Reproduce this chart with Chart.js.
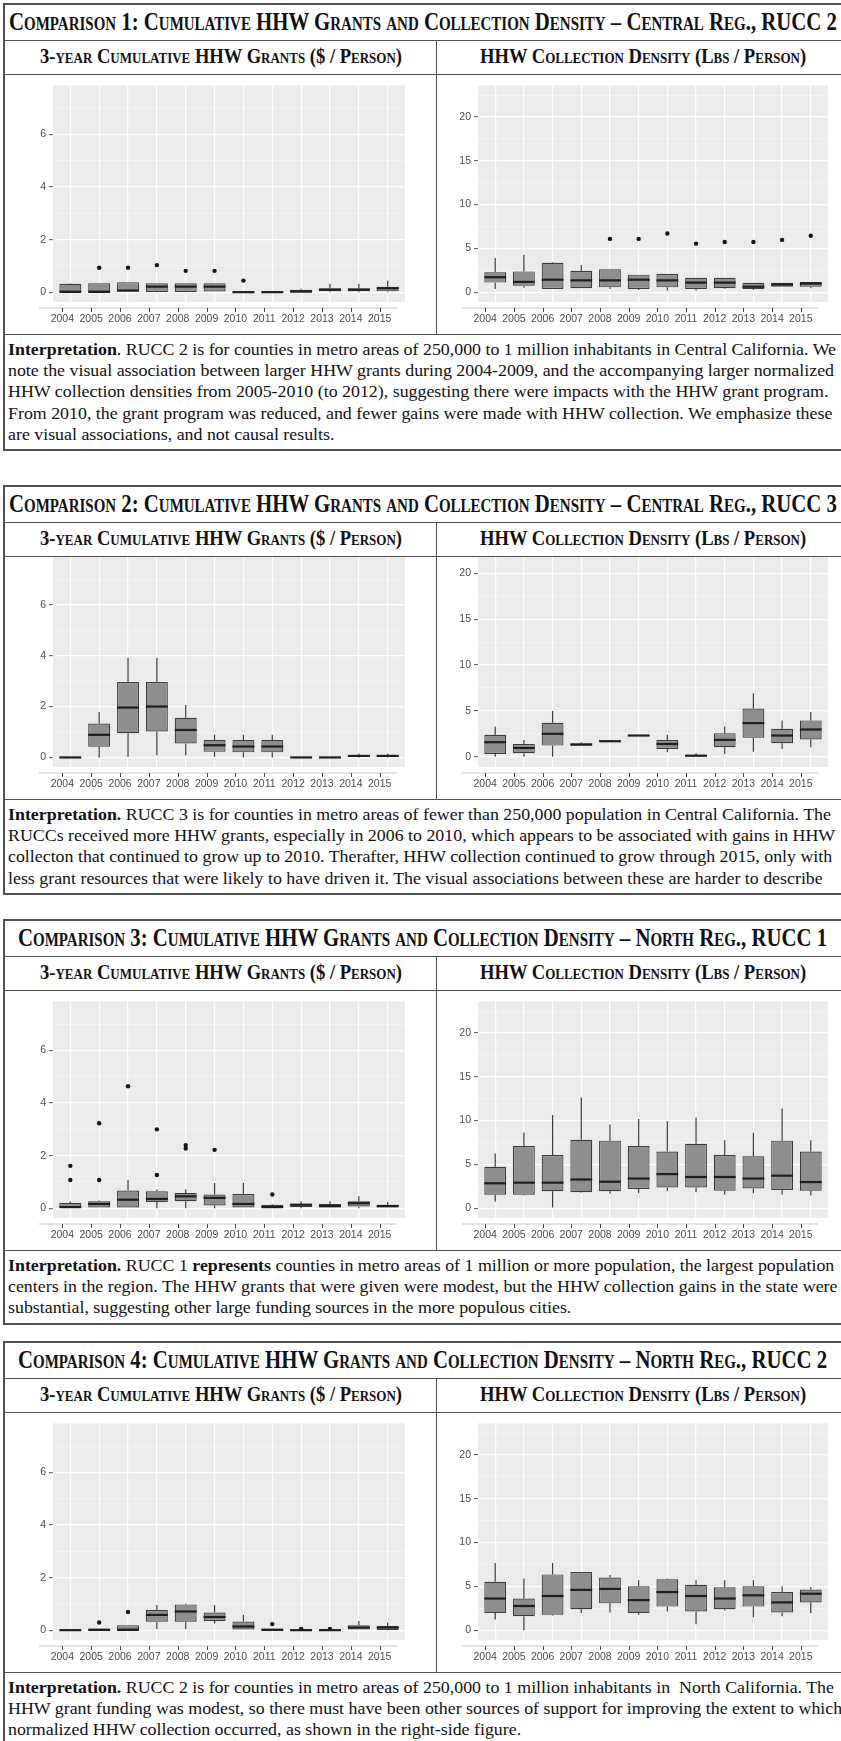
<!DOCTYPE html>
<html>
<head>
<meta charset="utf-8">
<title>Cumulative HHW Grants and Collection Density</title>
<script src="https://cdn.jsdelivr.net/npm/chart.js@4.4.1/dist/chart.umd.min.js"></script>
<style>
  html, body { margin: 0; padding: 0; background: #fff; }
  #page { position: relative; width: 841px; height: 1741px; overflow: hidden; background: #fff; }
  .frame { position: absolute; left: 3px; width: 900px; border: 2px solid #505050; box-sizing: border-box; }
  .hline { position: absolute; left: 3px; width: 900px; height: 0; border-top: 1.6px solid #505050; }
  .vline { position: absolute; left: 436px; width: 0; border-left: 1.6px solid #505050; }
  .title, .sub, .txt {
    position: absolute; white-space: nowrap; line-height: 1; color: #111;
    font-family: "Liberation Serif", "Times New Roman", serif; transform-origin: 0 50%;
  }
  .title { font-weight: bold; font-variant: small-caps; font-size: 25px; }
  .sub { font-weight: bold; font-variant: small-caps; font-size: 20px; }
  .txt { font-size: 17px; }
  canvas { position: absolute; }
</style>
</head>
<body>
<div id="page"></div>
<script>
// ---------- categories ----------
const years = ['2004', '2005', '2006', '2007', '2008', '2009', '2010', '2011', '2012', '2013', '2014', '2015'];

// ---------- box statistics per year: [min, q1, median, q3, max] ----------
// outliers: [year index, value]
const c1Grants = [
  [0, 0, 0.01, 0.32, 0.34], [0, 0, 0.01, 0.34, 0.34], [0, 0, 0.06, 0.38, 0.38], [0, 0.01, 0.21, 0.34, 0.34],
  [0, 0.01, 0.21, 0.34, 0.34], [0, 0, 0.21, 0.34, 0.34], [0, 0, 0, 0.02, 0.02], [0, 0, 0, 0.01, 0.01],
  [0, 0, 0.02, 0.09, 0.13], [0, 0.03, 0.09, 0.15, 0.32], [0, 0.03, 0.09, 0.15, 0.32], [0, 0.03, 0.15, 0.21, 0.43]
];
const c1GrantOutliers = [[1, 0.93], [2, 0.93], [3, 1.03], [4, 0.81], [5, 0.81], [6, 0.44]];
const c1Density = [
  [0.36, 1.09, 1.71, 2.26, 3.9], [0.5, 0.73, 1.17, 2.37, 4.26], [0.36, 0.36, 1.42, 3.35, 3.42], [0.44, 0.44, 1.35, 2.44, 3.1],
  [0.36, 0.55, 1.35, 2.62, 2.62], [0.25, 0.36, 1.42, 2.0, 2.0], [0.18, 0.55, 1.35, 2.08, 2.08], [0.18, 0.36, 1.09, 1.64, 1.64],
  [0.36, 0.44, 1.09, 1.64, 1.64], [0.25, 0.36, 0.62, 1.06, 1.06], [0.62, 0.62, 0.87, 1.06, 1.06], [0.44, 0.62, 0.98, 1.17, 1.17]
];
const c1DensityOutliers = [[4, 6.08], [5, 6.08], [6, 6.7], [7, 5.54], [8, 5.72], [9, 5.72], [10, 5.97], [11, 6.45]];

const c2Grants = [
  [0, 0, 0, 0, 0], [0, 0.42, 0.89, 1.33, 1.79], [0.03, 0.95, 1.96, 2.96, 3.91], [0.09, 1.02, 2.0, 2.96, 3.91],
  [0.09, 0.55, 1.08, 1.56, 2.06], [0.03, 0.22, 0.48, 0.69, 0.89], [0, 0.2, 0.43, 0.69, 0.89], [0, 0.2, 0.43, 0.69, 0.89],
  [0, 0, 0, 0, 0], [0, 0, 0, 0, 0], [0, 0.02, 0.06, 0.1, 0.16], [0, 0.02, 0.06, 0.1, 0.16]
];
const c2GrantOutliers = [];
const c2Density = [
  [0, 0.29, 1.58, 2.39, 3.3], [0, 0.37, 0.95, 1.39, 1.83], [0, 1.21, 2.5, 3.71, 5.0], [1.21, 1.21, 1.32, 1.47, 1.58],
  [1.65, 1.65, 1.69, 1.75, 1.83], [2.25, 2.25, 2.31, 2.38, 2.38], [0.48, 0.84, 1.39, 1.83, 2.39], [0.03, 0.03, 0.11, 0.18, 0.37],
  [0.29, 1.03, 1.83, 2.57, 3.3], [0.55, 2.06, 3.67, 5.25, 6.9], [0.84, 1.47, 2.31, 3.05, 3.96], [1.03, 1.87, 2.97, 3.96, 4.88]
];
const c2DensityOutliers = [];

const c3Grants = [
  [0, 0, 0.04, 0.2, 0.25], [0, 0, 0.16, 0.26, 0.29], [0, 0, 0.32, 0.67, 1.07], [0, 0.23, 0.35, 0.64, 0.71],
  [0, 0.26, 0.45, 0.58, 0.71], [0, 0.1, 0.39, 0.52, 0.96], [0, 0, 0.16, 0.54, 0.96], [0, 0, 0.04, 0.13, 0.16],
  [0, 0.04, 0.13, 0.16, 0.26], [0, 0, 0.08, 0.16, 0.26], [0, 0.06, 0.19, 0.26, 0.45], [0, 0, 0.08, 0.13, 0.23]
];
const c3GrantOutliers = [[0, 1.61], [0, 1.07], [1, 3.23], [1, 1.07], [2, 4.64], [3, 3.0], [3, 1.26], [4, 2.4], [4, 2.27], [5, 2.22], [7, 0.52]];
const c3Density = [
  [0.73, 1.53, 2.84, 4.73, 6.25], [1.45, 1.53, 2.91, 7.09, 8.65], [0.07, 1.93, 2.91, 6.07, 10.65], [1.75, 1.82, 3.27, 7.82, 12.65],
  [1.64, 1.93, 3.02, 7.71, 9.56], [1.71, 2.18, 3.38, 7.09, 10.18], [1.93, 2.36, 3.89, 6.47, 9.93], [1.82, 2.36, 3.56, 7.35, 10.36],
  [1.53, 2.0, 3.56, 6.07, 7.75], [1.71, 2.25, 3.38, 5.93, 8.62], [1.53, 2.07, 3.71, 7.71, 11.38], [1.45, 2.0, 2.98, 6.47, 7.75]
];
const c3DensityOutliers = [];

const c4Grants = [
  [0, 0, 0, 0, 0], [0, 0, 0.01, 0.06, 0.06], [0, 0, 0.01, 0.19, 0.19], [0.04, 0.32, 0.58, 0.77, 0.96],
  [0.04, 0.32, 0.71, 0.98, 1.01], [0.25, 0.35, 0.5, 0.67, 0.95], [0, 0, 0.14, 0.33, 0.58], [0, 0, 0.01, 0.06, 0.06],
  [0, 0, 0, 0.01, 0.01], [0, 0, 0, 0.01, 0.01], [0, 0, 0.1, 0.19, 0.35], [0, 0.01, 0.1, 0.16, 0.29]
];
const c4GrantOutliers = [[1, 0.29], [2, 0.69], [7, 0.23], [8, 0.05], [9, 0.05]];
const c4Density = [
  [1.22, 1.95, 3.61, 5.52, 7.66], [0, 1.58, 2.76, 3.61, 5.9], [1.66, 1.77, 3.9, 6.37, 7.66], [1.95, 2.39, 4.6, 6.63, 6.63],
  [2.03, 3.06, 4.71, 6.0, 6.3], [1.77, 1.95, 3.43, 5.0, 5.71], [2.14, 2.69, 4.35, 5.82, 5.89], [0.66, 2.14, 3.9, 5.19, 5.71],
  [2.25, 2.39, 3.61, 4.9, 5.71], [1.47, 2.69, 3.98, 5.0, 5.71], [1.58, 2.03, 3.17, 4.35, 5.0], [1.95, 3.17, 4.16, 4.64, 4.9]
];
const c4DensityOutliers = [];

// ---------- axis ticks ----------
const grantGridValues = [0, 1, 2, 3, 4, 5, 6, 7];
const grantTickLabels = [0, 2, 4, 6];
const densityGridValues = [0, 2.5, 5, 7.5, 10, 12.5, 15, 17.5, 20, 22.5];
const densityTickLabels = [0, 5, 10, 15, 20];

// ---------- texts ----------
const comparisonTitles = [
  'Comparison 1: Cumulative HHW Grants and Collection Density – Central Reg., RUCC 2',
  'Comparison 2: Cumulative HHW Grants and Collection Density – Central Reg., RUCC 3',
  'Comparison 3: Cumulative HHW Grants and Collection Density – North Reg., RUCC 1',
  'Comparison 4: Cumulative HHW Grants and Collection Density – North Reg., RUCC 2'
];
const grantHeading = '3-year Cumulative HHW Grants ($ / Person)';
const densityHeading = 'HHW Collection Density (Lbs / Person)';
const interp1 = [
  '**Interpretation**. RUCC 2 is for counties in metro areas of 250,000 to 1 million inhabitants in Central California. We',
  'note the visual association between larger HHW grants during 2004-2009, and the accompanying larger normalized',
  'HHW collection densities from 2005-2010 (to 2012), suggesting there were impacts with the HHW grant program.',
  'From 2010, the grant program was reduced, and fewer gains were made with HHW collection. We emphasize these',
  'are visual associations, and not causal results.'
];
const interp2 = [
  '**Interpretation.** RUCC 3 is for counties in metro areas of fewer than 250,000 population in Central California. The',
  'RUCCs received more HHW grants, especially in 2006 to 2010, which appears to be associated with gains in HHW',
  'collecton that continued to grow up to 2010. Therafter, HHW collection continued to grow through 2015, only with',
  'less grant resources that were likely to have driven it. The visual associations between these are harder to describe'
];
const interp3 = [
  '**Interpretation.** RUCC 1 **represents** counties in metro areas of 1 million or more population, the largest population',
  'centers in the region. The HHW grants that were given were modest, but the HHW collection gains in the state were',
  'substantial, suggesting other large funding sources in the more populous cities.'
];
const interp4 = [
  '**Interpretation.** RUCC 2 is for counties in metro areas of 250,000 to 1 million inhabitants in &nbsp;North California. The',
  'HHW grant funding was modest, so there must have been other sources of support for improving the extent to which',
  'normalized HHW collection occurred, as shown in the right-side figure.'
];

// ---------- page layout ----------
const page = document.getElementById('page');
const zeroLines = [292, 757, 1208, 1630];     // y of the value-0 line in each comparison
const chartRowTops = [74, 556, 990, 1412];    // y of the rule above each pair of plots
const LINE_STEP = 21.3;

function add(cls, css, html) {
  const d = document.createElement('div');
  d.className = cls;
  Object.assign(d.style, css);
  if (html !== undefined) d.innerHTML = html;
  page.appendChild(d);
  return d;
}
const px = v => v + 'px';

// y ranges of the panels
const grantAxis = {
  min: -0.375, max: 7.875, grid: grantGridValues, labels: grantTickLabels,
  yWidth: 48, padRight: 30, padTop: 7.4, shift: -8
};
const grantAxisShort = {
  min: -0.375, max: 7.875, grid: grantGridValues, labels: grantTickLabels,
  yWidth: 48, padRight: 30, padTop: 16, shift: -8
};
const densityAxis = {
  min: -1.125, max: 23.625, grid: densityGridValues, labels: densityTickLabels,
  yWidth: 39, padRight: 11, padTop: 0, shift: -10
};
const densityAxisShort = {
  min: -1.125, max: 21.8, grid: densityGridValues.filter(v => v < 21.8), labels: densityTickLabels,
  yWidth: 39, padRight: 11, padTop: 16, shift: -10
};

const titleEls = [], subLeftEls = [], subRightEls = [], txtEls = [];
const blocks = [
  { grants: c1Grants, gOut: c1GrantOutliers, gAxis: grantAxis, density: c1Density, dOut: c1DensityOutliers, dAxis: densityAxis, lines: interp1 },
  { grants: c2Grants, gOut: c2GrantOutliers, gAxis: grantAxisShort, density: c2Density, dOut: c2DensityOutliers, dAxis: densityAxisShort, lines: interp2 },
  { grants: c3Grants, gOut: c3GrantOutliers, gAxis: grantAxis, density: c3Density, dOut: c3DensityOutliers, dAxis: densityAxis, lines: interp3 },
  { grants: c4Grants, gOut: c4GrantOutliers, gAxis: grantAxis, density: c4Density, dOut: c4DensityOutliers, dAxis: densityAxis, lines: interp4 }
];

blocks.forEach((b, k) => {
  const Z = zeroLines[k];
  const H = chartRowTops[k];
  const T = H - 71;
  const divider = Z + 42;
  const firstLine = divider + 17;
  const bottom = firstLine + (b.lines.length - 1) * LINE_STEP + 15;
  add('frame', { top: px(T), height: px(bottom - T) });
  add('hline', { top: px(T + 37) });
  add('hline', { top: px(H) });
  add('hline', { top: px(divider) });
  add('vline', { top: px(T + 37), height: px(divider - T - 37) });

  titleEls.push(add('title', { top: px(T + 20 - 25 * 0.55) }, comparisonTitles[k]));
  subLeftEls.push(add('sub', { top: px(T + 54.5 - 20 * 0.58) }, grantHeading));
  subRightEls.push(add('sub', { top: px(T + 54.5 - 20 * 0.58) }, densityHeading));

  b.lines.forEach((ln, j) => {
    const html = ln.replace(/\*\*(.+?)\*\*/g, '<b>$1</b>');
    txtEls.push(add('txt', { left: '8px', top: px(firstLine + j * LINE_STEP - 17 * 0.6) }, html));
  });

  b.Z = Z;
});

// fit the serif headings and paragraphs to their column widths
function placeScaled(e, s, centerX) {
  const w = e.getBoundingClientRect().width;
  e.style.left = px(centerX - w * s / 2);
  e.style.transform = 'scaleX(' + s + ')';
}
const subScale = 362 / subLeftEls[0].getBoundingClientRect().width;
subLeftEls.forEach(e => placeScaled(e, subScale, 221));
subRightEls.forEach(e => placeScaled(e, subScale, 643));
const titleScale = 828 / titleEls[0].getBoundingClientRect().width;
titleEls.forEach(e => placeScaled(e, titleScale, 423));
const txtScale = 828 / txtEls[0].getBoundingClientRect().width;
txtEls.forEach(e => { e.style.transform = 'scaleX(' + txtScale + ')'; });

// ---------- Chart.js box plots ----------
Chart.defaults.font.family = '"Liberation Sans", Arial, sans-serif';
Chart.defaults.color = '#4d4d4d';

const panelPlugin = {
  id: 'panel',
  beforeDraw(chart) {
    const { ctx, chartArea: a } = chart;
    ctx.save();
    ctx.fillStyle = '#ebebeb';
    ctx.fillRect(a.left, a.top, a.right - a.left, a.bottom - a.top);
    ctx.restore();
  },
  afterDraw(chart, args, opts) {
    // axis strip with tick marks under the panel
    const { ctx, chartArea: a } = chart;
    const xs = chart.scales.x;
    const shift = opts.shift || 0;
    const y0 = a.bottom + 6;
    ctx.save();
    ctx.strokeStyle = '#dadada';
    ctx.lineWidth = 1.5;
    ctx.beginPath();
    ctx.moveTo(a.left + shift - 6, y0);
    ctx.lineTo(a.right + shift, y0);
    ctx.stroke();
    ctx.strokeStyle = '#444';
    ctx.lineWidth = 1;
    xs.ticks.forEach(t => {
      const x = Math.round(xs.getPixelForValue(t.value) + shift) + 0.5;
      ctx.beginPath();
      ctx.moveTo(x, y0);
      ctx.lineTo(x, y0 + 4);
      ctx.stroke();
    });
    ctx.restore();
  }
};

function boxStatsPlugin(stats) {
  return {
    id: 'boxStats',
    afterDatasetsDraw(chart) {
      const { ctx } = chart;
      const ys = chart.scales.y;
      const meta = chart.getDatasetMeta(0);
      ctx.save();
      meta.data.forEach((bar, i) => {
        const s = stats[i];
        const { x, width } = bar.getProps(['x', 'width'], true);
        ctx.strokeStyle = '#3b3b3b';
        ctx.lineWidth = 1.2;
        ctx.beginPath();
        ctx.moveTo(x, ys.getPixelForValue(s[3]));
        ctx.lineTo(x, ys.getPixelForValue(s[4]));
        ctx.moveTo(x, ys.getPixelForValue(s[1]));
        ctx.lineTo(x, ys.getPixelForValue(s[0]));
        ctx.stroke();
        ctx.strokeStyle = '#1e1e1e';
        ctx.lineWidth = 2.2;
        const ym = ys.getPixelForValue(s[2]);
        ctx.beginPath();
        ctx.moveTo(x - width / 2, ym);
        ctx.lineTo(x + width / 2, ym);
        ctx.stroke();
      });
      ctx.restore();
    }
  };
}

function boxChart(left, top, width, height, stats, outliers, axis) {
  const cv = document.createElement('canvas');
  cv.width = width; cv.height = height;
  Object.assign(cv.style, { left: px(left), top: px(top), width: px(width), height: px(height) });
  page.appendChild(cv);
  return new Chart(cv, {
    type: 'bar',
    data: {
      datasets: [
        {
          type: 'bar',
          data: stats.map((s, i) => ({ x: i, y: [s[1], s[3]] })),
          backgroundColor: '#8e8e8e',
          borderColor: '#3b3b3b',
          borderWidth: 1.2,
          borderSkipped: false,
          barPercentage: 0.76,
          categoryPercentage: 1,
          order: 2
        },
        {
          type: 'scatter',
          data: outliers.map(([i, v]) => ({ x: i, y: v })),
          pointRadius: 2.2,
          pointBackgroundColor: '#161616',
          pointBorderWidth: 0,
          order: 1
        }
      ]
    },
    options: {
      responsive: false,
      animation: false,
      events: [],
      layout: { padding: { left: 0, right: axis.padRight, top: axis.padTop, bottom: 0 } },
      plugins: { legend: { display: false }, tooltip: { enabled: false }, panel: { shift: axis.shift } },
      scales: {
        x: {
          type: 'linear', min: -0.6, max: years.length - 0.4, offset: false,
          afterBuildTicks: sc => { sc.ticks = years.map((_, i) => ({ value: i })); },
          afterFit: sc => { sc.height = 32; },
          ticks: {
            callback: v => years[v], autoSkip: false, maxRotation: 0, minRotation: 0,
            padding: 11, labelOffset: axis.shift, color: '#4d4d4d', font: { size: 10.5 }
          },
          grid: { offset: false, drawTicks: false, color: 'rgba(255,255,255,0.95)', lineWidth: 1.2 },
          border: { display: false }
        },
        y: {
          type: 'linear', min: axis.min, max: axis.max,
          afterBuildTicks: sc => { sc.ticks = axis.grid.map(v => ({ value: v })); },
          afterFit: sc => { sc.width = axis.yWidth; },
          ticks: {
            callback: v => (axis.labels.includes(v) ? String(v) : ''),
            padding: 3, color: '#4d4d4d', font: { size: 10.5 }
          },
          grid: {
            drawTicks: true, tickLength: 4,
            color: c => (axis.labels.includes(c.tick.value) ? 'rgba(255,255,255,0.95)' : 'rgba(255,255,255,0.55)'),
            lineWidth: c => (axis.labels.includes(c.tick.value) ? 1.3 : 0.7),
            tickColor: c => (axis.labels.includes(c.tick.value) ? '#555' : 'rgba(0,0,0,0)'),
            tickWidth: 1
          },
          border: { display: false }
        }
      }
    },
    plugins: [panelPlugin, boxStatsPlugin(stats)]
  });
}

blocks.forEach(b => {
  const top = b.Z - 216;
  boxChart(5, top, 430, 258, b.grants, b.gOut, b.gAxis);
  boxChart(439, top, 400, 258, b.density, b.dOut, b.dAxis);
});
</script>
</body>
</html>
